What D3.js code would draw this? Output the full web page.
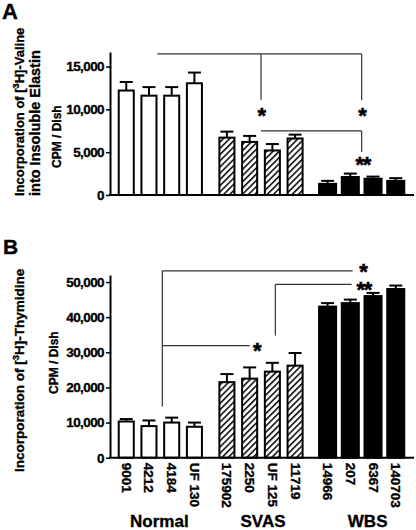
<!DOCTYPE html>
<html>
<head>
<meta charset="utf-8">
<script src="https://cdn.jsdelivr.net/npm/d3@7/dist/d3.min.js"></script>
<style>
  html, body { margin: 0; padding: 0; background: #fff; }
  svg { display: block; }
  text { font-family: "Liberation Sans", Arial, Helvetica, sans-serif; font-weight: bold; fill: #000; stroke: #000; stroke-width: 0.35px; }
</style>
</head>
<body>
<svg id="chart" width="416" height="530"></svg>
<script>
// ---------- data ----------
const groups = ["Normal", "SVAS", "WBS"];
const samples = ["9001", "4212", "4184", "UF 130", "175902", "2250", "UF 125", "11719", "14966", "207", "6367", "140703"];
const sampleGroup = ["Normal","Normal","Normal","Normal","SVAS","SVAS","SVAS","SVAS","WBS","WBS","WBS","WBS"];
const elastinMean = [12200, 11600, 11600, 13050, 6700, 6200, 5200, 6600, 1300, 2100, 1900, 1650];
const elastinErr  = [1000, 1000, 1000, 1250, 700, 700, 750, 450, 350, 400, 250, 320];
const thymMean    = [10300, 9000, 10000, 8800, 21500, 22500, 24500, 26200, 43000, 44000, 46000, 48000];
const thymErr     = [700, 1600, 1400, 1200, 2300, 3200, 2500, 3600, 1000, 1000, 900, 1000];
const ticksA = [0, 5000, 10000, 15000];
const ticksB = [0, 10000, 20000, 30000, 40000, 50000];

// ---------- setup ----------
const svg = d3.select("#chart");
const fmt = d3.format(",");

const x0 = d3.scaleBand().domain(groups).range([110, 412]).paddingInner(0).paddingOuter(0);
const x1 = d3.scaleBand().domain([0,1,2,3]).range([0, x0.bandwidth()]).paddingInner(0.25).paddingOuter(0.34);
const bx = i => x0(sampleGroup[i]) + x1(i % 4);
const bc = i => bx(i) + x1.bandwidth() / 2;
const gc = g => x0(g) + x0.bandwidth() / 2;

const yA = d3.scaleLinear().domain([0, 16700]).range([195, 52]);
const yB = d3.scaleLinear().domain([0, 52000]).range([457.7, 275]);

// hatch pattern
const defs = svg.append("defs");
const pat = defs.append("pattern").attr("id", "hatch").attr("patternUnits", "userSpaceOnUse")
  .attr("width", 4.4).attr("height", 4.4).attr("patternTransform", "rotate(45)");
pat.append("rect").attr("width", 4.4).attr("height", 4.4).attr("fill", "#fff");
pat.append("line").attr("x1", 0.8).attr("y1", 0).attr("x2", 0.8).attr("y2", 4.4)
  .attr("stroke", "#000").attr("stroke-width", 1.5);

function fillFor(i) {
  const g = sampleGroup[i];
  return g === "Normal" ? "#fff" : g === "SVAS" ? "url(#hatch)" : "#000";
}

function drawPanel(y, means, errs, ticks) {
  const g = svg.append("g");
  const bw = x1.bandwidth();
  means.forEach((m, i) => {
    const black = sampleGroup[i] === "WBS";
    const x = black ? bx(i) : bx(i) + 1;
    const w = black ? bw : bw - 2;
    const cx = bc(i);
    g.append("line").attr("x1", cx).attr("x2", cx).attr("y1", y(m)).attr("y2", y(m + errs[i]))
      .attr("stroke", "#000").attr("stroke-width", 2);
    g.append("line").attr("x1", cx - 6.5).attr("x2", cx + 6.5).attr("y1", y(m + errs[i])).attr("y2", y(m + errs[i]))
      .attr("stroke", "#000").attr("stroke-width", 2);
    g.append("rect").attr("x", x).attr("y", y(m)).attr("width", w).attr("height", y(0) - y(m))
      .attr("fill", fillFor(i)).attr("stroke", "#000").attr("stroke-width", 2);
  });
  const ax = g.append("g").attr("transform", "translate(110,0)")
    .call(d3.axisLeft(y).tickValues(ticks).tickFormat(fmt).tickSize(4).tickSizeOuter(0).tickPadding(2));
  ax.select(".domain").attr("stroke", "#000").attr("stroke-width", 2);
  ax.selectAll(".tick line").attr("stroke", "#000").attr("stroke-width", 1.5);
  ax.selectAll(".tick text").style("font-size", "13.5px").style("letter-spacing", "-0.6px")
    .style("font-family", '"Liberation Sans", Arial, sans-serif').style("font-weight", "bold").attr("fill", "#000");
  g.append("line").attr("x1", 109).attr("x2", 414).attr("y1", y(0)).attr("y2", y(0))
    .attr("stroke", "#000").attr("stroke-width", 2);
  return g;
}

drawPanel(yA, elastinMean, elastinErr, ticksA);
drawPanel(yB, thymMean, thymErr, ticksB);

// ---------- significance brackets ----------
function line(xa, ya, xb, yb) {
  svg.append("line").attr("x1", xa).attr("y1", ya).attr("x2", xb).attr("y2", yb)
    .attr("stroke", "#333").attr("stroke-width", 1.2);
}
function star(x, yc, s) {
  svg.append("text").attr("x", x).attr("y", yc + 12).attr("text-anchor", "middle")
    .style("font-size", "22px").style("letter-spacing", "-1.5px").style("stroke-width", "0.5px").text(s);
}
// Panel A
line(gc("Normal") - 3, yA(16480), gc("WBS"), yA(16480));
line(gc("SVAS"), yA(16480), gc("SVAS"), yA(11100));
line(gc("WBS"), yA(16480), gc("WBS"), yA(11100));
star(gc("SVAS"), yA(9850), "*");
star(gc("WBS"), yA(9850), "*");
line(gc("SVAS"), yA(7480), gc("WBS"), yA(7480));
line(gc("WBS"), yA(7480), gc("WBS"), yA(5030));
star(gc("WBS") + 1, yA(4100), "**");
// Panel B
line(gc("Normal") + 2, yB(14570), gc("Normal") + 2, yB(53200));
line(gc("Normal") + 2, yB(53200), gc("WBS") - 9, yB(53200));
star(gc("WBS") + 1, yB(54200), "*");
line(gc("Normal") + 2, yB(31900), bc(5), yB(31900));
star(bc(5) + 7, yB(31700), "*");
line(bc(6) + 3, yB(34770), bc(6) + 3, yB(49340));
line(bc(6) + 3, yB(49340), gc("WBS") - 10, yB(49340));
star(gc("WBS") + 2, yB(49200), "**");

// ---------- x labels ----------
samples.forEach((s, i) => {
  svg.append("text").attr("transform", `translate(${bc(i) - 4.5},${yB(0) + 5}) rotate(90)`)
    .attr("text-anchor", "start").style("font-size", "13.5px").text(s);
});
groups.forEach(gname => {
  svg.append("text").attr("x", gc(gname) + (gname === "WBS" ? 6 : gname === "SVAS" ? 2 : -1)).attr("y", 527)
    .attr("text-anchor", "middle").style("font-size", "17px").text(gname);
});

// ---------- titles ----------
svg.append("text").attr("x", 2).attr("y", 19).style("font-size", "22px").text("A");
svg.append("text").attr("x", 3).attr("y", 254).style("font-size", "21px").text("B");

function yTitle(x, y, parts, size) {
  const t = svg.append("text").attr("transform", `translate(${x},${y}) rotate(-90)`)
    .attr("text-anchor", "start").style("font-size", size + "px");
  parts.forEach(p => {
    const ts = t.append("tspan").text(p.t);
    if (p.sup) ts.attr("baseline-shift", "super").style("font-size", (size * 0.7) + "px");
  });
  return t;
}
yTitle(24, 196, [{t: "Incorporation of  ["}, {t: "3", sup: true}, {t: "H]-Valine"}], 13);
yTitle(39.5, 196, [{t: "into Insoluble Elastin"}], 14.5);
yTitle(61, 168, [{t: "CPM / Dish"}], 12);
yTitle(24, 472, [{t: "Incorporation of  ["}, {t: "3", sup: true}, {t: "H]-Thymidine"}], 13.5);
yTitle(58, 394, [{t: "CPM / Dish"}], 12);
</script>
</body>
</html>
